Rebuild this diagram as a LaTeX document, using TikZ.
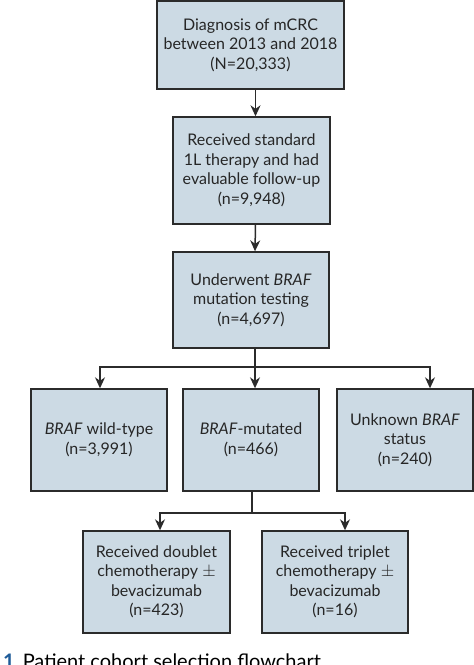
\documentclass[tikz,border=0pt]{standalone}
\usepackage{fontspec}
\setmainfont{Lato}
\usetikzlibrary{arrows.meta}
\definecolor{boxfill}{HTML}{CCDAE4}
\definecolor{boxline}{HTML}{2B2B2B}
\definecolor{capblue}{HTML}{1F5C99}
\begin{document}
\begin{tikzpicture}[x=1pt,y=-1pt,
  flowbox/.style={draw=boxline, line width=1.4pt, fill=boxfill, align=center,
    inner sep=2pt, font=\fontsize{16}{19.5}\selectfont, text=black!85},
  arr/.style={draw=boxline, line width=1.5pt, -{Stealth[length=11pt,width=10pt]}},
  ln/.style={draw=boxline, line width=1.5pt}]
\useasboundingbox (0,0) rectangle (474,665);
\node[flowbox, minimum width=187pt, minimum height=88pt] (b1) at (250.5,45)
  {Diagnosis of mCRC\\between 2013 and 2018\\(N=20,333)};
\node[flowbox, minimum width=157pt, minimum height=107pt] (b2) at (251.5,170.5)
  {Received standard\\1L therapy and had\\evaluable follow-up\\(n=9,948)};
\node[flowbox, minimum width=156pt, minimum height=96pt] (b3) at (251,300)
  {Underwent \textit{BRAF}\\mutation testing\\(n=4,697)};
\node[flowbox, minimum width=136pt, minimum height=102pt] (b4) at (99,440)
  {\textit{BRAF} wild-type\\(n=3,991)};
\node[flowbox, minimum width=136pt, minimum height=102pt] (b5) at (251,440)
  {\textit{BRAF}-mutated\\(n=466)};
\node[flowbox, minimum width=136pt, minimum height=102pt] (b6) at (405,440)
  {Unknown \textit{BRAF}\\status\\(n=240)};
\node[flowbox, minimum width=147pt, minimum height=102pt] (b7) at (156.5,582)
  {Received doublet\\chemotherapy $\pm$\\bevacizumab\\(n=423)};
\node[flowbox, minimum width=146pt, minimum height=102pt] (b8) at (335,582)
  {Received triplet\\chemotherapy $\pm$\\bevacizumab\\(n=16)};
% spine
\draw[arr] ([xshift=5pt]b1.south) -- ([xshift=4pt]b2.north);
\draw[arr] ([xshift=4pt]b2.south) -- ([xshift=4pt]b3.north);
\coordinate (j1) at (255,367);
\draw[ln] ([xshift=4pt]b3.south) -- (j1);
\draw[arr] (j1) -| ([xshift=1pt]b4.north);
\draw[arr] (j1) -- ([xshift=4pt]b5.north);
\draw[arr] (j1) -| ([xshift=25pt]b6.north);
\coordinate (j2) at (252,513);
\draw[ln] ([xshift=1pt]b5.south) -- (j2);
\draw[arr] (j2) -| ([xshift=3.5pt]b7.north);
\draw[arr] (j2) -| ([xshift=10pt]b8.north);
% caption
\node[anchor=base west, inner sep=0pt, font=\fontsize{20}{24}\selectfont] (cap) at (3,668)
  {\textcolor{capblue}{\textbf{1}}\hspace{8pt}Patient cohort selection flowchart};
\end{tikzpicture}
\end{document}
